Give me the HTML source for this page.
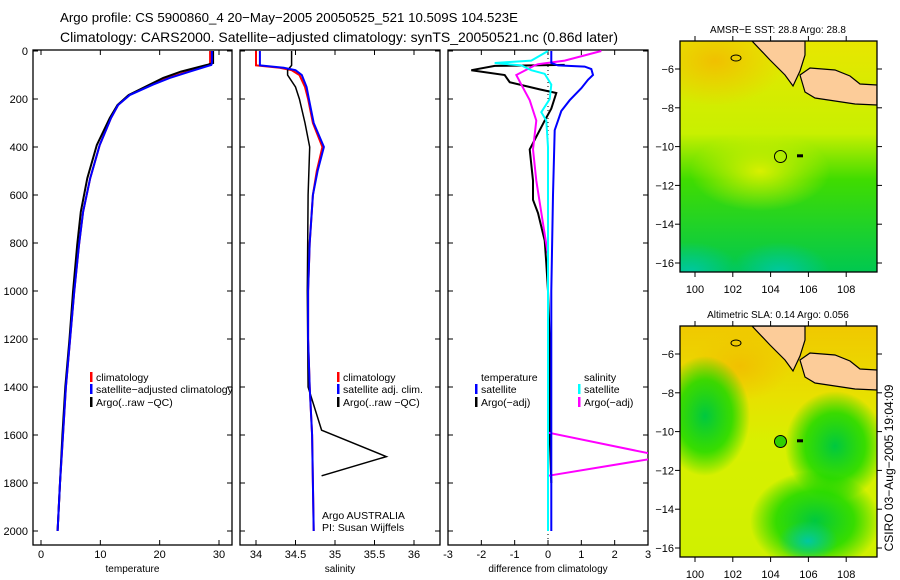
<!DOCTYPE html>
<html><head><meta charset="utf-8">
<style>
html,body{margin:0;padding:0;background:#fff;}
svg{display:block;font-family:"Liberation Sans",sans-serif;}
</style></head>
<body>
<svg id="chart" width="900" height="580" viewBox="0 0 900 580" xmlns="http://www.w3.org/2000/svg">
<defs>
<radialGradient id="g-orange1" cx="0.5" cy="0.5" r="0.5"><stop offset="0" stop-color="#f0c000"/><stop offset="1" stop-color="#f0c400" stop-opacity="0"/></radialGradient>
<radialGradient id="g-green1" cx="0.5" cy="0.5" r="0.5"><stop offset="0" stop-color="#00c840"/><stop offset="0.6" stop-color="#10d800" stop-opacity="0.8"/><stop offset="1" stop-color="#00d000" stop-opacity="0"/></radialGradient>
<radialGradient id="g-teal" cx="0.5" cy="0.5" r="0.5"><stop offset="0" stop-color="#00c8a0"/><stop offset="1" stop-color="#00c8a0" stop-opacity="0"/></radialGradient>
<radialGradient id="g-lime" cx="0.5" cy="0.5" r="0.5"><stop offset="0" stop-color="#d8f000"/><stop offset="1" stop-color="#d8f000" stop-opacity="0"/></radialGradient>
<linearGradient id="g-sst" x1="0" y1="0" x2="0" y2="1"><stop offset="0" stop-color="#e8e600"/><stop offset="0.4" stop-color="#c8f000"/><stop offset="0.6" stop-color="#40dc00"/><stop offset="1" stop-color="#00c850"/></linearGradient>
<linearGradient id="g-sla" x1="0" y1="0" x2="0" y2="1"><stop offset="0" stop-color="#f0c800"/><stop offset="0.3" stop-color="#e8e000"/><stop offset="0.5" stop-color="#d8f000"/><stop offset="1" stop-color="#d0f000"/></linearGradient>
<clipPath id="clip-m1"><rect x="680" y="41" width="197" height="231"/></clipPath>
<clipPath id="clip-m2"><rect x="680" y="326" width="197" height="231"/></clipPath>
<clipPath id="clip-p1"><rect x="33" y="50" width="199" height="495"/></clipPath>
<clipPath id="clip-p2"><rect x="240" y="50" width="200" height="495"/></clipPath>
<clipPath id="clip-p3"><rect x="448" y="50" width="200" height="495"/></clipPath>
</defs>
<text x="60" y="22" font-size="13.3" textLength="458" lengthAdjust="spacingAndGlyphs">Argo profile: CS 5900860_4 20−May−2005 20050525_521 10.509S 104.523E</text>
<text x="60" y="42" font-size="13.8" textLength="558" lengthAdjust="spacingAndGlyphs">Climatology: CARS2000. Satellite−adjusted climatology: synTS_20050521.nc (0.86d later)</text>
<g id="plots"></g>
<g id="maps"></g>
<text transform="translate(893,468) rotate(-90)" text-anchor="middle" font-size="12">CSIRO 03−Aug−2005 19:04:09</text>
</svg>
<script>
// ---- data ----
const depthTicks = [0,200,400,600,800,1000,1200,1400,1600,1800,2000];
const tempTicks = [0,10,20,30];
const salTicks = [34,34.5,35,35.5,36];
const diffTicks = [-3,-2,-1,0,1,2,3];
const tempDepths = [0,50,58,86,112,140,183,225,279,392,530,670,808,1004,1200,1400,1600,1800,2000];
const tempClim = [28.5,28.5,28.4,24.8,21.4,18.7,14.9,13.0,11.8,9.9,8.3,7.1,6.4,5.6,4.9,4.2,3.7,3.2,2.8];
const tempSat = [28.8,28.8,28.7,25.1,21.7,18.9,15.0,13.0,11.8,9.9,8.3,7.1,6.4,5.6,4.9,4.2,3.7,3.2,2.8];
const tempArgo = [29.0,29.0,28.0,23.6,20.6,18.3,14.8,12.9,11.6,9.4,7.8,6.7,6.1,5.4,4.8,4.1,3.6,3.2,2.8];
const salDepths = [0,60,70,80,100,150,200,300,400,500,600,800,1000,1200,1400,1600,1800,2000];
const salClim = [34.0,34.0,34.3,34.45,34.55,34.62,34.66,34.72,34.84,34.77,34.72,34.68,34.66,34.66,34.68,34.71,34.72,34.73];
const salSat = [34.05,34.05,34.35,34.5,34.58,34.64,34.67,34.73,34.86,34.78,34.72,34.68,34.66,34.66,34.68,34.71,34.72,34.73];
const argoSalDepths = [0,60,80,100,150,200,300,400,600,1000,1400,1580,1690,1770];
const argoSal = [34.45,34.45,34.4,34.4,34.5,34.55,34.62,34.68,34.66,34.65,34.66,34.83,35.65,34.83];
const dTempDepths = [0,50,60,65,75,100,120,155,205,250,330,600,1000,2000];
const dTempSat = [0.1,0.1,0.3,1.1,1.3,1.35,1.2,1.0,0.65,0.4,0.2,0.15,0.1,0.1];
const dTempArgoDepths = [58,62,80,100,130,160,175,240,290,410,540,620,675,790,885,1000,1200,1600,1800];
const dTempArgo = [0.5,-1.6,-2.3,-1.3,-1.15,-0.25,0.25,0.1,-0.1,-0.55,-0.45,-0.45,-0.3,-0.1,-0.05,0.0,0.05,0.05,0.1];
const dSalSatDepths = [0,40,50,60,80,95,140,200,255,290,400,1000,2000];
const dSalSat = [0.0,-0.5,-1.6,-0.8,-0.5,-0.1,0.1,0.05,-0.2,-0.05,0.0,0.0,0.0];
const dSalArgoDepths = [0,40,55,60,100,140,205,290,410,540,745,850,1200,1590,1690,1770];
const dSalArgo = [1.6,0.5,-0.3,-0.4,-0.95,-0.8,-0.55,-0.35,-0.45,-0.35,-0.12,0.0,0.0,0.0,3.5,0.0];

const NS="http://www.w3.org/2000/svg";
const root=document.getElementById('plots');
function el(tag,attrs,parent){const e=document.createElementNS(NS,tag);for(const k in attrs)e.setAttribute(k,attrs[k]);(parent||root).appendChild(e);return e;}
const yScale=d=>51+d*0.24;
function mkX(px0,px1,d0,d1){return v=>px0+(v-d0)/(d1-d0)*(px1-px0);}
const panels=[
 {name:'temperature-panel',x0:33,x1:232,xs:mkX(41,219,0,30),ticks:tempTicks,title:'temperature',clip:'clip-p1'},
 {name:'salinity-panel',x0:240,x1:440,xs:mkX(256,414,34,36),ticks:salTicks,title:'salinity',clip:'clip-p2'},
 {name:'difference-panel',x0:448,x1:648,xs:mkX(448,648,-3,3),ticks:diffTicks,title:'difference from climatology',clip:'clip-p3'}
];
depthTicks.forEach(d=>{
 const t=el('text',{x:28,y:yScale(d)+4,'text-anchor':'end','font-size':11});
 
 
 t.textContent=d;
});
panels.forEach(p=>{
 const g=el('g',{});
 
 
 const r=el('rect',{x:p.x0,y:50,width:p.x1-p.x0,height:495,fill:'#fff',stroke:'#000','stroke-width':1.3},g);
 
 
 depthTicks.forEach(d=>{
  el('line',{x1:p.x0,x2:p.x0+5,y1:yScale(d),y2:yScale(d),stroke:'#000'},g);
  el('line',{x1:p.x1-5,x2:p.x1,y1:yScale(d),y2:yScale(d),stroke:'#000'},g);
 });
 p.ticks.forEach(v=>{
  const x=p.xs(v);
  el('line',{x1:x,x2:x,y1:50,y2:55,stroke:'#000'},g);
  el('line',{x1:x,x2:x,y1:540,y2:545,stroke:'#000'},g);
  const t=el('text',{x:x,y:558,'text-anchor':'middle','font-size':11},g);
  
  
  t.textContent=v;
 });
 const at=el('text',{x:(p.x0+p.x1)/2,y:572,'text-anchor':'middle','font-size':10},g);
 
 
 at.textContent=p.title;
 p.g=g;
});
function line(p,depths,vals,color,name,w){
 const pts=depths.map((d,i)=>p.xs(vals[i]).toFixed(1)+','+yScale(d).toFixed(1)).join(' ');
 const l=el('polyline',{points:pts,fill:'none',stroke:color,'stroke-width':w||2,'clip-path':'url(#'+p.clip+')'},p.g);
 
 
}
const z=el('line',{x1:panels[2].xs(0),x2:panels[2].xs(0),y1:50,y2:545,stroke:'#000','stroke-dasharray':'1,3'},panels[2].g);


line(panels[0],tempDepths,tempClim,'#f00','temperature-climatology-line');
line(panels[0],tempDepths,tempArgo,'#000','temperature-argo-line');
line(panels[0],tempDepths,tempSat,'#00f','temperature-satellite-line');
line(panels[1],salDepths,salClim,'#f00','salinity-climatology-line');
line(panels[1],argoSalDepths,argoSal,'#000','salinity-argo-line',1.5);
line(panels[1],salDepths,salSat,'#00f','salinity-satellite-line');
line(panels[2],dTempArgoDepths,dTempArgo,'#000','temp-diff-argo-line');
line(panels[2],dSalArgoDepths,dSalArgo,'#f0f','sal-diff-argo-line');
line(panels[2],dTempDepths,dTempSat,'#00f','temp-diff-satellite-line');
line(panels[2],dSalSatDepths,dSalSat,'#0ff','sal-diff-satellite-line');
function legend(g,x,y,color,label){
 if(color){const m=el('rect',{x:x-6,y:y-8,width:2.5,height:10,fill:color},g);
  
  }
 const t=el('text',{x:x,y:y+1,'font-size':10.5},g);
 
 
 t.textContent=label;
}
legend(panels[0].g,96,380,'#f00','climatology');
legend(panels[0].g,96,392,'#00f','satellite−adjusted climatology');
legend(panels[0].g,96,405,'#000','Argo(..raw −QC)');
legend(panels[1].g,343,380,'#f00','climatology');
legend(panels[1].g,343,392,'#00f','satellite adj. clim.');
legend(panels[1].g,343,405,'#000','Argo(..raw −QC)');
legend(panels[1].g,322,518,null,'Argo AUSTRALIA');
legend(panels[1].g,322,530,null,'PI: Susan Wijffels');
legend(panels[2].g,481,380,null,'temperature');
legend(panels[2].g,481,392,'#00f','satellite');
legend(panels[2].g,481,405,'#000','Argo(−adj)');
legend(panels[2].g,584,380,null,'salinity');
legend(panels[2].g,584,392,'#0ff','satellite');
legend(panels[2].g,584,405,'#f0f','Argo(−adj)');

// ---- maps ----
const mroot=document.getElementById('maps');
const lonTicks=[100,102,104,106,108];
const latTicks=[-6,-8,-10,-12,-14,-16];
function map(oy,title,name,sla){
 const g=el('g',{},mroot);
 
 
 const lonX=l=>695+(l-100)*18.9;
 const latY=l=>oy+28+(-6-l)*19.4;
 const cg=el('g',{'clip-path':'url(#'+(oy<100?'clip-m1':'clip-m2')+')'},g);
 if(!sla){
  el('rect',{x:680,y:oy,width:197,height:231,fill:'url(#g-sst)'},cg);
  el('ellipse',{cx:715,cy:oy+20,rx:70,ry:45,fill:'url(#g-orange1)'},cg);
  el('ellipse',{cx:760,cy:oy+130,rx:70,ry:40,fill:'url(#g-lime)'},cg);
  el('ellipse',{cx:690,cy:oy+231,rx:50,ry:30,fill:'url(#g-teal)'},cg);
  el('ellipse',{cx:780,cy:oy+231,rx:50,ry:30,fill:'url(#g-teal)'},cg);
 } else {
  el('rect',{x:680,y:oy,width:197,height:231,fill:'url(#g-sla)'},cg);
  el('ellipse',{cx:740,cy:oy+40,rx:50,ry:35,fill:'url(#g-orange1)'},cg);
  el('ellipse',{cx:705,cy:oy+90,rx:45,ry:60,fill:'url(#g-green1)'},cg);
  el('ellipse',{cx:835,cy:oy+120,rx:50,ry:55,fill:'url(#g-green1)'},cg);
  el('ellipse',{cx:815,cy:oy+195,rx:65,ry:50,fill:'url(#g-green1)'},cg);
  el('ellipse',{cx:808,cy:oy+215,rx:30,ry:20,fill:'url(#g-teal)'},cg);
 }
 const s=[[752,0],[805,0],[805,14],[800,30],[793,45],[785,34],[770,19]];
 const j=[[800,34],[810,27],[835,29],[850,35],[860,43],[877,44],[877,64],[855,63],[835,60],[815,57],[805,51]];
 [s,j].forEach((poly,i)=>{
  const pp=el('polygon',{points:poly.map(q=>q[0]+','+(q[1]+oy)).join(' '),fill:'#fccc99',stroke:'#000','stroke-width':1.2},cg);
  
  
 });
 el('ellipse',{cx:736,cy:oy+17,rx:5,ry:3,fill:'none',stroke:'#000'},cg);
 const c=el('circle',{cx:lonX(104.523),cy:latY(-10.509),r:6,fill:sla?'#30d000':'none',stroke:'#000'},g);
 
 
 el('rect',{x:797,y:latY(-10.5)-2,width:6,height:3,fill:'#000'},g);
 el('rect',{x:680,y:oy,width:197,height:231,fill:'none',stroke:'#000','stroke-width':1.3},g);
 lonTicks.forEach(l=>{
  el('line',{x1:lonX(l),x2:lonX(l),y1:oy-5,y2:oy,stroke:'#000'},g);
  el('line',{x1:lonX(l),x2:lonX(l),y1:oy+231,y2:oy+236,stroke:'#000'},g);
  const t=el('text',{x:lonX(l),y:oy+252,'text-anchor':'middle','font-size':11},g);
  
  
  t.textContent=l;
 });
 latTicks.forEach(l=>{
  el('line',{x1:675,x2:680,y1:latY(l),y2:latY(l),stroke:'#000'},g);
  el('line',{x1:877,x2:882,y1:latY(l),y2:latY(l),stroke:'#000'},g);
  const t=el('text',{x:674,y:latY(l)+4,'text-anchor':'end','font-size':11},g);
  
  
  t.textContent=String(l).replace('-','−');
 });
 const tt=el('text',{x:778,y:oy-8,'text-anchor':'middle','font-size':10},g);
 
 
 tt.textContent=title;
}
map(41,'AMSR−E SST: 28.8 Argo: 28.8','sst-map',false);
map(326,'Altimetric SLA: 0.14 Argo: 0.056','sla-map',true);
</script>
</body></html>
